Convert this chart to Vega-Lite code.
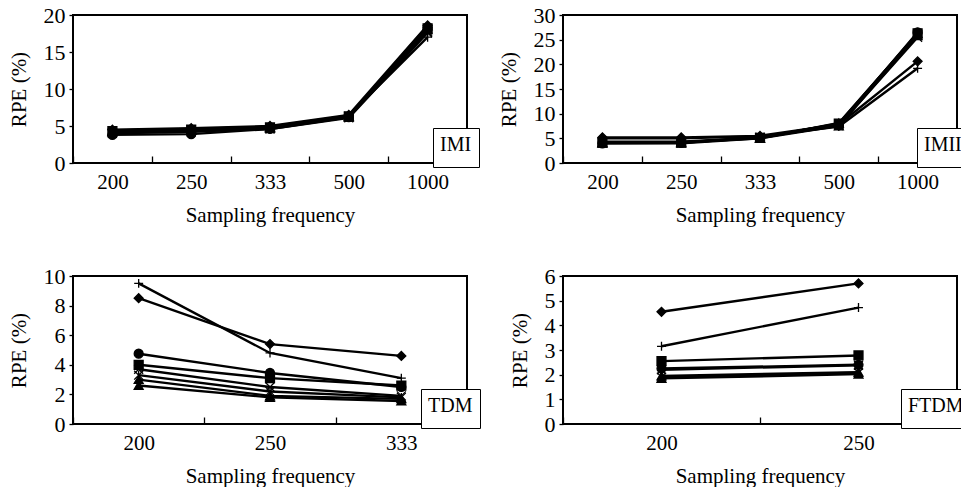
{
"$schema":"https://vega.github.io/schema/vega-lite/v6.json",
"background":"white",
"padding":{"left":7,"top":3,"right":0,"bottom":0},
"bounds":"flush",
"columns":2,
"spacing":{"row":113,"column":96},
"resolve":{"scale":{"color":"independent"},"legend":{"color":"independent"}},
"datasets":{
"d":[
{"p":"IMI","f":"200","s":"S1","v":4.5},{"p":"IMI","f":"250","s":"S1","v":4.7},{"p":"IMI","f":"333","s":"S1","v":5.0},{"p":"IMI","f":"500","s":"S1","v":6.5},{"p":"IMI","f":"1000","s":"S1","v":18.6},
{"p":"IMI","f":"200","s":"S2","v":4.3},{"p":"IMI","f":"250","s":"S2","v":4.5},{"p":"IMI","f":"333","s":"S2","v":4.8},{"p":"IMI","f":"500","s":"S2","v":6.3},{"p":"IMI","f":"1000","s":"S2","v":18.2},
{"p":"IMI","f":"200","s":"S3","v":4.2},{"p":"IMI","f":"250","s":"S3","v":4.4},{"p":"IMI","f":"333","s":"S3","v":4.7},{"p":"IMI","f":"500","s":"S3","v":6.2},{"p":"IMI","f":"1000","s":"S3","v":18.0},
{"p":"IMI","f":"200","s":"S4","v":4.1},{"p":"IMI","f":"250","s":"S4","v":4.3},{"p":"IMI","f":"333","s":"S4","v":4.6},{"p":"IMI","f":"500","s":"S4","v":6.1},{"p":"IMI","f":"1000","s":"S4","v":17.6},
{"p":"IMI","f":"200","s":"S5","v":4.0},{"p":"IMI","f":"250","s":"S5","v":4.2},{"p":"IMI","f":"333","s":"S5","v":4.7},{"p":"IMI","f":"500","s":"S5","v":6.3},{"p":"IMI","f":"1000","s":"S5","v":17.8},
{"p":"IMI","f":"200","s":"S6","v":3.8},{"p":"IMI","f":"250","s":"S6","v":3.9},{"p":"IMI","f":"333","s":"S6","v":4.6},{"p":"IMI","f":"500","s":"S6","v":6.2},{"p":"IMI","f":"1000","s":"S6","v":18.3},
{"p":"IMI","f":"200","s":"S7","v":4.4},{"p":"IMI","f":"250","s":"S7","v":4.6},{"p":"IMI","f":"333","s":"S7","v":4.9},{"p":"IMI","f":"500","s":"S7","v":6.4},{"p":"IMI","f":"1000","s":"S7","v":17.0},
{"p":"IMI","f":"200","s":"S8","v":4.3},{"p":"IMI","f":"250","s":"S8","v":4.5},{"p":"IMI","f":"333","s":"S8","v":4.8},{"p":"IMI","f":"500","s":"S8","v":6.3},{"p":"IMI","f":"1000","s":"S8","v":18.5},
{"p":"IMII","f":"200","s":"S1","v":5.2},{"p":"IMII","f":"250","s":"S1","v":5.2},{"p":"IMII","f":"333","s":"S1","v":5.5},{"p":"IMII","f":"500","s":"S1","v":7.8},{"p":"IMII","f":"1000","s":"S1","v":20.6},
{"p":"IMII","f":"200","s":"S2","v":4.2},{"p":"IMII","f":"250","s":"S2","v":4.2},{"p":"IMII","f":"333","s":"S2","v":5.1},{"p":"IMII","f":"500","s":"S2","v":8.0},{"p":"IMII","f":"1000","s":"S2","v":26.3},
{"p":"IMII","f":"200","s":"S3","v":4.0},{"p":"IMII","f":"250","s":"S3","v":4.0},{"p":"IMII","f":"333","s":"S3","v":5.0},{"p":"IMII","f":"500","s":"S3","v":7.5},{"p":"IMII","f":"1000","s":"S3","v":25.8},
{"p":"IMII","f":"200","s":"S4","v":4.1},{"p":"IMII","f":"250","s":"S4","v":4.1},{"p":"IMII","f":"333","s":"S4","v":5.2},{"p":"IMII","f":"500","s":"S4","v":7.6},{"p":"IMII","f":"1000","s":"S4","v":25.5},
{"p":"IMII","f":"200","s":"S5","v":4.3},{"p":"IMII","f":"250","s":"S5","v":4.3},{"p":"IMII","f":"333","s":"S5","v":5.2},{"p":"IMII","f":"500","s":"S5","v":7.9},{"p":"IMII","f":"1000","s":"S5","v":26.0},
{"p":"IMII","f":"200","s":"S6","v":4.0},{"p":"IMII","f":"250","s":"S6","v":4.1},{"p":"IMII","f":"333","s":"S6","v":5.1},{"p":"IMII","f":"500","s":"S6","v":7.7},{"p":"IMII","f":"1000","s":"S6","v":26.5},
{"p":"IMII","f":"200","s":"S7","v":5.0},{"p":"IMII","f":"250","s":"S7","v":5.0},{"p":"IMII","f":"333","s":"S7","v":5.4},{"p":"IMII","f":"500","s":"S7","v":7.4},{"p":"IMII","f":"1000","s":"S7","v":19.2},
{"p":"IMII","f":"200","s":"S8","v":4.1},{"p":"IMII","f":"250","s":"S8","v":4.2},{"p":"IMII","f":"333","s":"S8","v":5.0},{"p":"IMII","f":"500","s":"S8","v":8.1},{"p":"IMII","f":"1000","s":"S8","v":26.2},
{"p":"TDM","f":"200","s":"S1","v":8.5},{"p":"TDM","f":"250","s":"S1","v":5.4},{"p":"TDM","f":"333","s":"S1","v":4.6},
{"p":"TDM","f":"200","s":"S2","v":4.0},{"p":"TDM","f":"250","s":"S2","v":3.1},{"p":"TDM","f":"333","s":"S2","v":2.6},
{"p":"TDM","f":"200","s":"S3","v":2.6},{"p":"TDM","f":"250","s":"S3","v":1.8},{"p":"TDM","f":"333","s":"S3","v":1.55},
{"p":"TDM","f":"200","s":"S4","v":3.7},{"p":"TDM","f":"250","s":"S4","v":2.5},{"p":"TDM","f":"333","s":"S4","v":1.9},
{"p":"TDM","f":"200","s":"S5","v":3.3},{"p":"TDM","f":"250","s":"S5","v":2.2},{"p":"TDM","f":"333","s":"S5","v":1.8},
{"p":"TDM","f":"200","s":"S6","v":4.75},{"p":"TDM","f":"250","s":"S6","v":3.45},{"p":"TDM","f":"333","s":"S6","v":2.5},
{"p":"TDM","f":"200","s":"S7","v":9.5},{"p":"TDM","f":"250","s":"S7","v":4.8},{"p":"TDM","f":"333","s":"S7","v":3.1},
{"p":"TDM","f":"200","s":"S8","v":3.0},{"p":"TDM","f":"250","s":"S8","v":1.9},{"p":"TDM","f":"333","s":"S8","v":1.7},
{"p":"FTDM","f":"200","s":"S1","v":4.55},{"p":"FTDM","f":"250","s":"S1","v":5.7},
{"p":"FTDM","f":"200","s":"S2","v":2.55},{"p":"FTDM","f":"250","s":"S2","v":2.78},
{"p":"FTDM","f":"200","s":"S3","v":1.85},{"p":"FTDM","f":"250","s":"S3","v":2.02},
{"p":"FTDM","f":"200","s":"S4","v":1.9},{"p":"FTDM","f":"250","s":"S4","v":2.08},
{"p":"FTDM","f":"200","s":"S5","v":2.2},{"p":"FTDM","f":"250","s":"S5","v":2.38},
{"p":"FTDM","f":"200","s":"S6","v":2.25},{"p":"FTDM","f":"250","s":"S6","v":2.4},
{"p":"FTDM","f":"200","s":"S7","v":3.15},{"p":"FTDM","f":"250","s":"S7","v":4.72},
{"p":"FTDM","f":"200","s":"S8","v":1.95},{"p":"FTDM","f":"250","s":"S8","v":2.1}
]
},
"concat":[
{"width":394,"height":148,
 "layer":[
  {"data":{"name":"d"},"transform":[{"filter":"datum.p==='IMI'"}],
   "mark":{"type":"line","color":"black"},
   "encoding":{
    "x":{"field":"f","type":"ordinal","scale":{"type":"band","domain":["200","250","333","500","1000"],"paddingInner":0,"paddingOuter":0},"title":"Sampling frequency"},
    "y":{"field":"v","type":"quantitative","scale":{"domain":[0,20],"nice":false},"axis":{"values":[0,5,10,15,20],"tickCount":20,"format":"d","labelOverlap":false},"title":"RPE (%)"},
    "detail":{"field":"s"},
    "strokeWidth":{"field":"s","type":"nominal","scale":{"domain":["S1","S2","S3","S4","S5","S6","S7","S8"],"range":[2.4,2.4,2.4,1.8,1.8,2.4,1.2,2.4]},"legend":null}}},
  {"data":{"name":"d"},"transform":[{"filter":"datum.p==='IMI'"}],
   "mark":{"type":"point","filled":true,"stroke":"black","strokeWidth":1.3,"opacity":1,"size":80},
   "encoding":{
    "x":{"field":"f","type":"ordinal"},
    "y":{"field":"v","type":"quantitative"},
    "shape":{"field":"s","type":"nominal","scale":{"domain":["S1","S2","S3","S4","S5","S6","S7","S8"],"range":["diamond","square","triangle-up","M-1,-1L1,1M-1,1L1,-1","M-1,-1L1,1M-1,1L1,-1M0,-1L0,1","circle","M-1,0L1,0M0,-1L0,1","triangle-up"]},"legend":null},
    "fill":{"field":"s","type":"nominal","scale":{"domain":["S1","S2","S3","S4","S5","S6","S7","S8"],"range":["black","black","black","white","white","black","black","black"]},"legend":null}}},
  {"data":{"values":[{"lab":"IMI"}]},"mark":{"type":"point","opacity":0},
   "encoding":{"color":{"field":"lab","type":"nominal","scale":{"range":["black"]},"legend":{"title":"IMI","orient":"none","legendX":360,"legendY":113}}}}
 ]},
{"width":394,"height":148,
 "layer":[
  {"data":{"name":"d"},"transform":[{"filter":"datum.p==='IMII'"}],
   "mark":{"type":"line","color":"black"},
   "encoding":{
    "x":{"field":"f","type":"ordinal","scale":{"type":"band","domain":["200","250","333","500","1000"],"paddingInner":0,"paddingOuter":0},"title":"Sampling frequency"},
    "y":{"field":"v","type":"quantitative","scale":{"domain":[0,30],"nice":false},"axis":{"values":[0,5,10,15,20,25,30],"tickCount":20,"format":"d","labelOverlap":false},"title":"RPE (%)"},
    "detail":{"field":"s"},
    "strokeWidth":{"field":"s","type":"nominal","scale":{"domain":["S1","S2","S3","S4","S5","S6","S7","S8"],"range":[2.4,2.4,2.4,1.8,1.8,2.4,1.2,2.4]},"legend":null}}},
  {"data":{"name":"d"},"transform":[{"filter":"datum.p==='IMII'"}],
   "mark":{"type":"point","filled":true,"stroke":"black","strokeWidth":1.3,"opacity":1,"size":80},
   "encoding":{
    "x":{"field":"f","type":"ordinal"},
    "y":{"field":"v","type":"quantitative"},
    "shape":{"field":"s","type":"nominal","scale":{"domain":["S1","S2","S3","S4","S5","S6","S7","S8"],"range":["diamond","square","triangle-up","M-1,-1L1,1M-1,1L1,-1","M-1,-1L1,1M-1,1L1,-1M0,-1L0,1","circle","M-1,0L1,0M0,-1L0,1","triangle-up"]},"legend":null},
    "fill":{"field":"s","type":"nominal","scale":{"domain":["S1","S2","S3","S4","S5","S6","S7","S8"],"range":["black","black","black","white","white","black","black","black"]},"legend":null}}},
  {"data":{"values":[{"lab":"IMII"}]},"mark":{"type":"point","opacity":0},
   "encoding":{"color":{"field":"lab","type":"nominal","scale":{"range":["black"]},"legend":{"title":"IMII","orient":"none","legendX":354,"legendY":113}}}}
 ]},
{"width":394,"height":148,
 "layer":[
  {"data":{"name":"d"},"transform":[{"filter":"datum.p==='TDM'"}],
   "mark":{"type":"line","color":"black"},
   "encoding":{
    "x":{"field":"f","type":"ordinal","scale":{"type":"band","domain":["200","250","333"],"paddingInner":0,"paddingOuter":0},"title":"Sampling frequency"},
    "y":{"field":"v","type":"quantitative","scale":{"domain":[0,10],"nice":false},"axis":{"values":[0,2,4,6,8,10],"tickCount":20,"format":"d","labelOverlap":false},"title":"RPE (%)"},
    "detail":{"field":"s"},
    "strokeWidth":{"field":"s","type":"nominal","scale":{"domain":["S1","S2","S3","S4","S5","S6","S7","S8"],"range":[1.7,1.7,1.7,1.7,1.7,1.7,1,1.7]},"legend":null}}},
  {"data":{"name":"d"},"transform":[{"filter":"datum.p==='TDM'"}],
   "mark":{"type":"point","filled":true,"stroke":"black","strokeWidth":1.3,"opacity":1,"size":80},
   "encoding":{
    "x":{"field":"f","type":"ordinal"},
    "y":{"field":"v","type":"quantitative"},
    "shape":{"field":"s","type":"nominal","scale":{"domain":["S1","S2","S3","S4","S5","S6","S7","S8"],"range":["diamond","square","triangle-up","M-1,-1L1,1M-1,1L1,-1","M-1,-1L1,1M-1,1L1,-1M0,-1L0,1","circle","M-1,0L1,0M0,-1L0,1","triangle-up"]},"legend":null},
    "fill":{"field":"s","type":"nominal","scale":{"domain":["S1","S2","S3","S4","S5","S6","S7","S8"],"range":["black","black","black","white","white","black","black","black"]},"legend":null}}},
  {"data":{"values":[{"lab":"TDM"}]},"mark":{"type":"point","opacity":0},
   "encoding":{"color":{"field":"lab","type":"nominal","scale":{"range":["black"]},"legend":{"title":"TDM","orient":"none","legendX":348,"legendY":113}}}}
 ]},
{"width":394,"height":148,
 "layer":[
  {"data":{"name":"d"},"transform":[{"filter":"datum.p==='FTDM'"}],
   "mark":{"type":"line","color":"black"},
   "encoding":{
    "x":{"field":"f","type":"ordinal","scale":{"type":"band","domain":["200","250"],"paddingInner":0,"paddingOuter":0},"title":"Sampling frequency"},
    "y":{"field":"v","type":"quantitative","scale":{"domain":[0,6],"nice":false},"axis":{"values":[0,1,2,3,4,5,6],"tickCount":20,"format":"d","labelOverlap":false},"title":"RPE (%)"},
    "detail":{"field":"s"},
    "strokeWidth":{"field":"s","type":"nominal","scale":{"domain":["S1","S2","S3","S4","S5","S6","S7","S8"],"range":[1.7,1.7,1.7,1.7,1.7,1.7,1,1.7]},"legend":null}}},
  {"data":{"name":"d"},"transform":[{"filter":"datum.p==='FTDM'"}],
   "mark":{"type":"point","filled":true,"stroke":"black","strokeWidth":1.3,"opacity":1,"size":80},
   "encoding":{
    "x":{"field":"f","type":"ordinal"},
    "y":{"field":"v","type":"quantitative"},
    "shape":{"field":"s","type":"nominal","scale":{"domain":["S1","S2","S3","S4","S5","S6","S7","S8"],"range":["diamond","square","triangle-up","M-1,-1L1,1M-1,1L1,-1","M-1,-1L1,1M-1,1L1,-1M0,-1L0,1","circle","M-1,0L1,0M0,-1L0,1","triangle-up"]},"legend":null},
    "fill":{"field":"s","type":"nominal","scale":{"domain":["S1","S2","S3","S4","S5","S6","S7","S8"],"range":["black","black","black","white","white","black","black","black"]},"legend":null}}},
  {"data":{"values":[{"lab":"FTDM"}]},"mark":{"type":"point","opacity":0},
   "encoding":{"color":{"field":"lab","type":"nominal","scale":{"range":["black"]},"legend":{"title":"FTDM","orient":"none","legendX":338,"legendY":113}}}}
 ]}
],
"config":{
 "font":"Liberation Serif",
 "view":{"stroke":"black","strokeWidth":2},
 "axis":{"domain":false,"grid":false,"labelOverlap":false,"labelFont":"Liberation Serif","labelFontSize":21,"labelColor":"black","titleFont":"Liberation Serif","titleFontSize":21,"titleFontWeight":"normal","titleColor":"black","tickColor":"black","tickWidth":1.3},
 "axisX":{"tickBand":"extent","offset":-7,"tickSize":7,"labelPadding":8,"labelAngle":0,"titlePadding":12},
 "axisY":{"tickSize":4,"labelPadding":4,"labelFontSize":22,"titlePadding":14},
 "legend":{"titleFont":"Liberation Serif","titleFontSize":20,"titleFontWeight":"normal","titleColor":"black","titlePadding":0,"titleBaseline":"top","labelExpr":"''","labelFontSize":0,"labelOffset":0,"symbolSize":0,"symbolStrokeWidth":0,"symbolOpacity":0,"symbolOffset":0,"columnPadding":0,"rowPadding":0,"strokeColor":"black","fillColor":"white","padding":7,"cornerRadius":0}
}
}
